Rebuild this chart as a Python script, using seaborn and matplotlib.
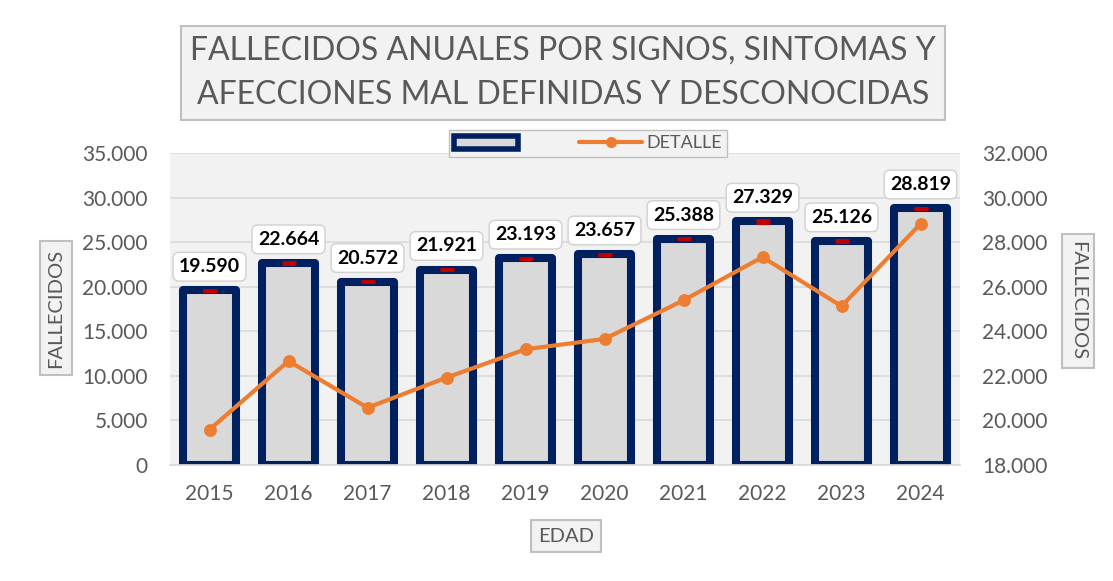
import matplotlib
matplotlib.use('Agg')
import matplotlib.pyplot as plt
import seaborn as sns
from matplotlib.patches import Patch
from matplotlib.lines import Line2D
from matplotlib.ticker import FuncFormatter

# data
years = ['2015', '2016', '2017', '2018', '2019', '2020', '2021', '2022', '2023', '2024']
deaths = [19590, 22664, 20572, 21921, 23193, 23657, 25388, 27329, 25126, 28819]
err = [60, 160, 60, 60, 60, 60, 60, 160, 160, 60]

title = 'FALLECIDOS ANUALES POR SIGNOS, SINTOMAS Y\nAFECCIONES MAL DEFINIDAS Y DESCONOCIDAS'
GREY_TXT = '#595959'
NAVY = '#002060'
ORANGE = '#ed7d31'

sns.set_theme(style='white')
plt.rcParams['font.family'] = ['Lato', 'DejaVu Sans']

W, H = 1113, 581
fig = plt.figure(figsize=(W / 100, H / 100), dpi=100)


def px(x0, y0, x1, y1):
    return [x0 / W, 1 - y1 / H, (x1 - x0) / W, (y1 - y0) / H]


def thousands(v, _):
    return f'{int(v):,}'.replace(',', '.')


ax = fig.add_axes(px(170, 153, 960, 465))
ax.set_facecolor('#f2f2f2')

sns.barplot(x=years, y=deaths, color='#d9d9d9', saturation=1, edgecolor=NAVY,
            linewidth=5.8, width=0.68, errorbar=None, ax=ax)
for p in ax.patches:
    p.set_joinstyle('round')
    p.set_zorder(2)

xs = [p.get_x() + p.get_width() / 2 for p in ax.patches]
ax.errorbar(xs, deaths, yerr=err, fmt='none', ecolor='#c00000', elinewidth=1.2,
            capsize=5, capthick=2.2, zorder=3)

for x, v in zip(xs, deaths):
    ax.annotate(thousands(v, None), (x, v), xytext=(0, 17), textcoords='offset points',
                ha='center', va='center', fontsize=14, fontweight='bold', color='black',
                bbox=dict(boxstyle='round,pad=0.3', fc='white', ec='#d0d0d0', lw=1), zorder=5)

ax.set_ylim(0, 35000)
ax.set_yticks(range(0, 35001, 5000))
ax.yaxis.set_major_formatter(FuncFormatter(thousands))
ax.grid(axis='y', color='#d9d9d9', lw=1.2)
ax.set_axisbelow(True)
for s in ['top', 'left', 'right']:
    ax.spines[s].set_visible(False)
ax.spines['bottom'].set_color('#d9d9d9')
ax.tick_params(length=0, labelsize=15, colors=GREY_TXT, pad=16)
ax.tick_params(axis='x', pad=14)
ax.set_xlabel('')
ax.set_ylabel('')

# line series on the secondary axis
ax2 = ax.twinx()
sns.pointplot(x=years, y=deaths, color=ORANGE, markers='o', markersize=7,
              linewidth=3, errorbar=None, ax=ax2)
ax2.set_ylim(18000, 32000)
ax2.set_yticks(range(18000, 32001, 2000))
ax2.yaxis.set_major_formatter(FuncFormatter(thousands))
for s in ax2.spines.values():
    s.set_visible(False)
ax2.tick_params(length=0, labelsize=15, colors=GREY_TXT, pad=16)
ax2.set_ylabel('')
ax2.grid(False)
ax.set_xlim(-0.5, 9.5)

# title and axis title boxes
box = dict(boxstyle='square,pad=0.35', fc='#f2f2f2', ec='#bfbfbf', lw=1.5)
fig.text(563 / W, 1 - 73 / H, title, ha='center', va='center', fontsize=23,
         color=GREY_TXT, linespacing=1.6,
         bbox=dict(boxstyle='square,pad=0.3', fc='#f2f2f2', ec='#bfbfbf', lw=1.5))
fig.text(56 / W, 1 - 308 / H, 'FALLECIDOS', rotation=90, ha='center', va='center',
         fontsize=14.5, color=GREY_TXT, bbox=box)
fig.text(1078 / W, 1 - 301 / H, 'FALLECIDOS', rotation=270, ha='center', va='center',
         fontsize=14.5, color=GREY_TXT, bbox=box)
fig.text(566 / W, 1 - 536 / H, 'EDAD', ha='center', va='center',
         fontsize=14.5, color=GREY_TXT, bbox=box)

handles = [Patch(fc='#d9d9d9', ec=NAVY, lw=4, joinstyle='round'),
           Line2D([], [], color=ORANGE, lw=3, marker='o', ms=7)]
fig.legend(handles=handles, labels=['', 'DETALLE'], loc='center',
           bbox_to_anchor=(588 / W, 1 - 143.5 / H), ncol=2, fontsize=13,
           handlelength=3.5, handletextpad=0.2, columnspacing=3.2, borderpad=0.3,
           fancybox=False, edgecolor='#bfbfbf', facecolor='#f2f2f2',
           labelcolor=GREY_TXT, framealpha=1)

fig.savefig('out.png', dpi=100)
